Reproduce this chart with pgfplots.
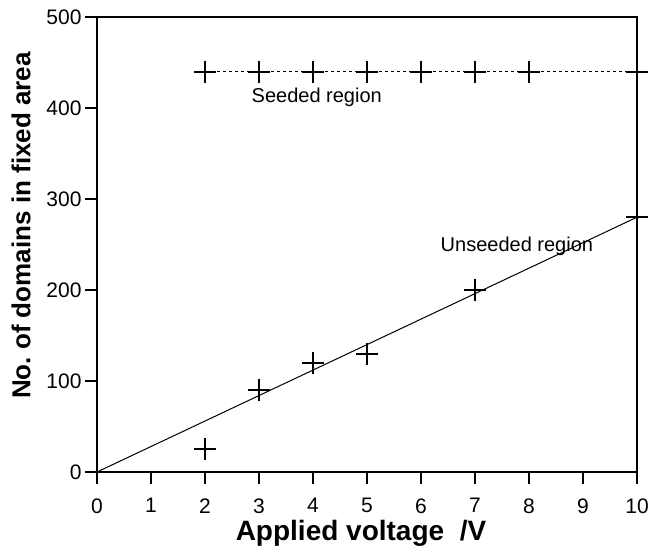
\documentclass[border=0pt]{standalone}
\usepackage{pgfplots}
\pgfplotsset{compat=1.18}
\usepackage{fontspec}
\setmainfont{Liberation Sans}

\begin{document}
\begin{tikzpicture}[font=\fontsize{21}{24}\selectfont]
\begin{axis}[
  scale only axis,
  width=540pt, height=455pt,
  xmin=0, xmax=10, ymin=0, ymax=500,
  xtick={0,1,...,10},
  ytick={0,100,...,500},
  axis x line*=bottom,
  axis y line*=left,
  tick align=outside,
  major tick length=12pt,
  axis line style={line width=1.3pt, -},
  tick style={line width=1.3pt, black},
  /pgf/number format/assume math mode=true,
  tick label style={font=\fontsize{21}{24}\selectfont},
  xticklabel style={yshift=-11pt},
  xlabel={\textbf{Applied\ voltage\ \ /V}},
  ylabel={\textbf{No.\ of\ domains\ in\ fixed\ area}},
  xlabel style={font=\fontsize{28}{32}\selectfont, xshift=-6pt},
  ylabel style={font=\fontsize{26}{30}\selectfont, yshift=9pt, xshift=19pt},
  clip=false,
]
% seeded region
\addplot[black, dashed, line width=0.9pt, mark=+, mark size=11pt,
  mark options={solid, line width=2pt}] coordinates {
  (2,440) (3,440) (4,440) (5,440) (6,440) (7,440) (8,440) (10,440)
};
% unseeded region, measured points
\addplot[only marks, mark=+, mark size=11pt, mark options={line width=2pt}] coordinates {
  (0,0) (2,25) (3,90) (4,120) (5,130) (7,200) (10,280)
};
% fitted line
\addplot[black, line width=1pt] coordinates {(0,0) (10,280)};
\draw[line width=1.3pt] (rel axis cs:0,1) -- (rel axis cs:1,1) -- (rel axis cs:1,0);
\node[anchor=west, font=\fontsize{20}{22}\selectfont] at (axis cs:2.8,412) {Seeded region};
\node[anchor=west, font=\fontsize{20}{22}\selectfont] at (axis cs:6.3,248) {Unseeded region};
\end{axis}
\pgfresetboundingbox
\path (current axis.south west) ++(-97pt,-81pt) coordinate (bl);
\path (current axis.north east) ++(13pt,17pt) coordinate (tr);
\useasboundingbox (bl) rectangle (tr);
\end{tikzpicture}
\end{document}
